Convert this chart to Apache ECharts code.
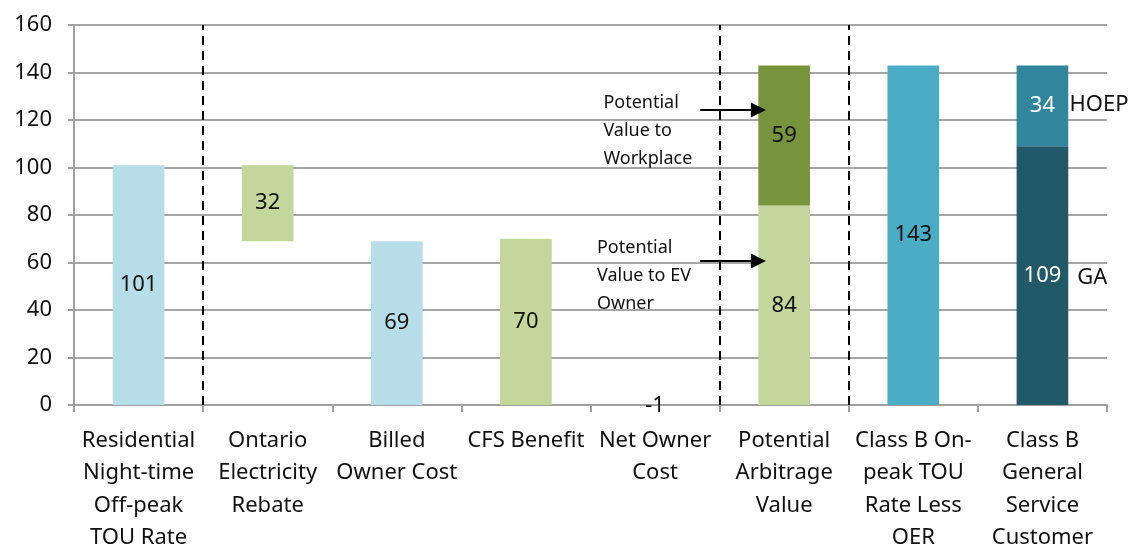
<!DOCTYPE html>
<html>
<head>
<meta charset="utf-8">
<script src="https://cdn.jsdelivr.net/npm/echarts@6/dist/echarts.min.js"></script>
<style>html,body{margin:0;padding:0;background:#fff;overflow:hidden}#c{width:1130px;height:546px}</style>
</head>
<body>
<div id="c"></div>
<script>
const categories = [
  'Residential\nNight-time\nOff-peak\nTOU Rate',
  'Ontario\nElectricity\nRebate',
  'Billed\nOwner Cost',
  'CFS Benefit',
  'Net Owner\nCost',
  'Potential\nArbitrage\nValue',
  'Class B On-\npeak TOU\nRate Less\nOER',
  'Class B\nGeneral\nService\nCustomer'
];
const yTicks = [0, 20, 40, 60, 80, 100, 120, 140, 160];
const baseOffset = [0, 69, 0, 0, 0, 0, 0, 0];
const lightBlue  = [101, '-', 69, '-', '-', '-', '-', '-'];
const lightGreen = ['-', 32, '-', 70, '-', 84, '-', '-'];
const netCost    = ['-', '-', '-', '-', -1, '-', '-', '-'];
const darkGreen  = ['-', '-', '-', '-', '-', 59, '-', '-'];
const tealTOU    = ['-', '-', '-', '-', '-', '-', 143, '-'];
const gaValues   = ['-', '-', '-', '-', '-', '-', '-', 109];
const hoepValues = ['-', '-', '-', '-', '-', '-', '-', 34];
const dividers = [1, 5, 6];
const notes = [
  {text: 'Potential\nValue to\nWorkplace', at: [4.10, 115.5]},
  {text: 'Potential\nValue to EV\nOwner', at: [4.05, 54.5]}
];
const arrows = [
  {from: [4.85, 124.2], to: [5.3, 124.2]},
  {from: [4.85, 60.6], to: [5.3, 60.6]}
];
const sideLabels = [
  {text: 'HOEP', at: [7.71, 126.3]},
  {text: 'GA', at: [7.77, 53.5]}
];

const FONT = 'Noto Sans';
const chart = echarts.init(document.getElementById('c'), null, {renderer: 'canvas'});

function barSeries(name, data, color, labelColor) {
  return {
    name: name, type: 'bar', stack: 'total', data: data,
    barWidth: '40%',
    itemStyle: {color: color},
    label: {show: true, position: 'inside', fontFamily: FONT, fontSize: 22, color: labelColor || '#111'},
    animation: false
  };
}

chart.setOption({
  animation: false,
  textStyle: {fontFamily: FONT},
  grid: {left: 74, right: 23, top: 25, bottom: 141, containLabel: false, outerBoundsMode: 'none'},
  graphic: [{
    type: 'text', x: 558, y: -20,
    style: {text: '(¢/kWh)', font: '22px "' + FONT + '"', fill: '#111', textAlign: 'center', textVerticalAlign: 'top'}
  }],
  xAxis: [{
    type: 'category', data: categories,
    axisLine: {lineStyle: {color: '#a0a0a0', width: 2}},
    axisTick: {show: true, length: 7, lineStyle: {color: '#a0a0a0', width: 2}},
    axisLabel: {interval: 0, fontFamily: FONT, fontSize: 22, lineHeight: 32.5, color: '#111', margin: 19}
  }, {
    type: 'value', min: 0, max: 8, show: false
  }],
  yAxis: {
    type: 'value', min: 0, max: 160, interval: 20,
    axisLine: {show: true, lineStyle: {color: '#a0a0a0', width: 2}},
    axisTick: {show: true, length: 6, lineStyle: {color: '#a0a0a0', width: 2}},
    splitLine: {lineStyle: {color: '#a6a6a6', width: 2}},
    axisLabel: {fontFamily: FONT, fontSize: 22, color: '#111', margin: 22,
      formatter: v => yTicks.includes(v) ? String(v) : ''}
  },
  series: [
    {name: 'base', type: 'bar', stack: 'total', data: baseOffset, barWidth: '40%',
     itemStyle: {color: 'transparent'}, silent: true, label: {show: false}},
    barSeries('lightBlue', lightBlue, '#B7DDE8'),
    barSeries('lightGreen', lightGreen, '#C3D69B'),
    Object.assign(barSeries('net', netCost, 'transparent'), {clip: false}),
    barSeries('darkGreen', darkGreen, '#77933C'),
    barSeries('teal', tealTOU, '#4BACC6'),
    barSeries('GA', gaValues, '#215968', '#ffffff'),
    barSeries('HOEP', hoepValues, '#31859C', '#ffffff'),
    {
      type: 'scatter', xAxisIndex: 1, yAxisIndex: 0, data: [], silent: true,
      markLine: {
        silent: true, symbol: ['none', 'none'], label: {show: false},
        lineStyle: {color: '#000', type: [9, 6], width: 2},
        data: dividers.map(d => ({xAxis: d}))
      }
    },
    {
      type: 'scatter', xAxisIndex: 1, yAxisIndex: 0, data: [], silent: true,
      markLine: {
        silent: true, symbol: ['none', 'triangle'], symbolSize: 15, label: {show: false},
        lineStyle: {color: '#000', type: 'solid', width: 2},
        data: arrows.map(a => [{coord: a.from, symbol: 'none'}, {coord: a.to, symbol: 'triangle', symbolSize: 15}])
      },
      markPoint: {
        silent: true, symbol: 'circle', symbolSize: 0,
        data: notes.map(n => ({coord: n.at, value: n.text,
          label: {show: true, position: [0, 0], align: 'left', verticalAlign: 'middle',
            formatter: n.text, fontFamily: FONT, fontSize: 18, lineHeight: 28, color: '#111'}}))
          .concat(sideLabels.map(s => ({coord: s.at, value: s.text,
          label: {show: true, position: [0, 0], align: 'left', verticalAlign: 'middle',
            formatter: s.text, fontFamily: FONT, fontSize: 22, color: '#111'}})))
      }
    }
  ]
});
</script>
</body>
</html>
